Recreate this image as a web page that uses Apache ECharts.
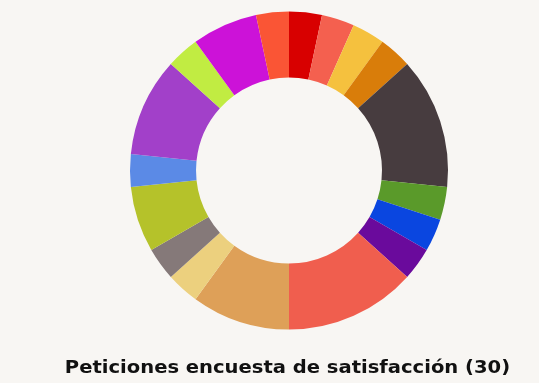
<!DOCTYPE html>
<html>
<head>
<meta charset="utf-8">
<script src="https://cdn.jsdelivr.net/npm/echarts@6/dist/echarts.min.js"></script>
<style>
  html, body { margin: 0; padding: 0; background: #f8f6f3; }
  #chart { width: 539px; height: 383px; }
</style>
</head>
<body>
<div id="chart"></div>
<script>
// Survey request categories, in clockwise order from 12 o'clock
const categories = [
  'Cat 1', 'Cat 2', 'Cat 3', 'Cat 4', 'Cat 5', 'Cat 6', 'Cat 7', 'Cat 8', 'Cat 9',
  'Cat 10', 'Cat 11', 'Cat 12', 'Cat 13', 'Cat 14', 'Cat 15', 'Cat 16', 'Cat 17', 'Cat 18'
];
const counts = [1, 1, 1, 1, 4, 1, 1, 1, 4, 3, 1, 1, 2, 1, 3, 1, 2, 1];
const sliceColors = [
  '#d80000', '#f4604f', '#f5c13e', '#d97d0a', '#473c3f', '#5a9a2a', '#0a46e0', '#6a0a9c', '#f05e4e',
  '#dea058', '#ecd07e', '#857979', '#b5c22a', '#5b8ae6', '#a240c9', '#c1ec42', '#cc12d8', '#fa5535'
];
const titleText = 'Peticiones encuesta de satisfacción (30)';

const chart = echarts.init(document.getElementById('chart'), null, { renderer: 'canvas' });
chart.setOption({
  backgroundColor: '#f8f6f3',
  animation: false,
  // Caption under the ring, widened to a Verdana-like bold face
  graphic: [{
    type: 'text',
    x: 287.5,
    y: 360,
    scaleX: 1.15,
    silent: true,
    style: {
      text: titleText,
      font: 'bold 17px "DejaVu Sans"',
      fill: '#111111',
      align: 'center',
      verticalAlign: 'top'
    }
  }],
  series: [{
    type: 'pie',
    center: [289, 170.5],
    radius: [93, 159],
    startAngle: 90,
    clockwise: true,
    avoidLabelOverlap: false,
    label: { show: false },
    labelLine: { show: false },
    emphasis: { disabled: true },
    itemStyle: { borderWidth: 0 },
    data: categories.map((name, i) => ({
      name,
      value: counts[i],
      itemStyle: { color: sliceColors[i] }
    }))
  }]
});
</script>
</body>
</html>
